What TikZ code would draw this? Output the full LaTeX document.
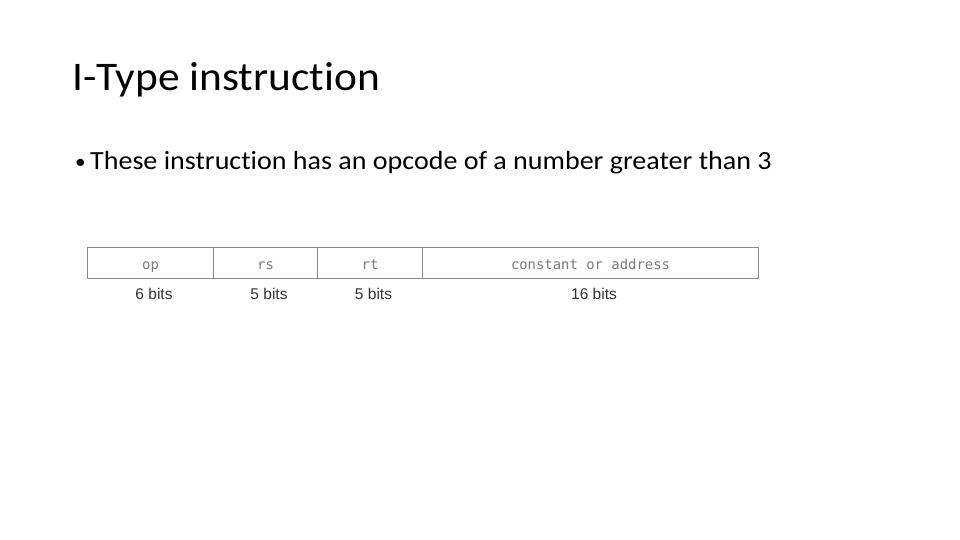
\documentclass[tikz,border=0pt]{standalone}
\usepackage{fontspec}
\setmainfont{Carlito}[Ligatures={NoCommon},FakeStretch=1.07]
\newfontfamily\labfont{Liberation Sans}
\newfontfamily\boxfont{DejaVu Sans Mono}
\definecolor{boxline}{HTML}{8A8A8A}
\definecolor{boxtext}{HTML}{7A7A7A}
\definecolor{labtext}{HTML}{333333}
\begin{document}
\begin{tikzpicture}[x=1pt,y=-1pt,
  field/.style={draw=boxline,line width=1pt,minimum height=31pt,inner sep=0pt,anchor=north west,
    text height=12.5pt,text depth=0.5pt,
    font=\boxfont\fontsize{13.9}{15}\selectfont,text=boxtext},
  bitlab/.style={font=\labfont\fontsize{15.5}{17}\selectfont,text=labtext,inner sep=0pt,xshift=3.5pt}]
\useasboundingbox[fill=white] (0,0) rectangle (960,540);
\node[anchor=base west,inner sep=0pt,font=\fontsize{40.6}{48}\selectfont] (title) at (72,91) {I-Type instruction};
\node[anchor=base,inner sep=0pt,font=\fontsize{20}{24}\selectfont] (dot) at (80.5,169) {\textbullet};
\node[anchor=base west,inner sep=0pt,font=\fontsize{26.2}{31}\selectfont] (bullet) at (90,170) {These instruction has an opcode of a number greater than 3};
\node[field,minimum width=126pt] (op) at (87,247) {op};
\node[field,minimum width=104pt] (rs) at (213,247) {rs};
\node[field,minimum width=105pt] (rt) at (317,247) {rt};
\node[field,minimum width=336pt] (ca) at (422,247) {constant or address};
\node[bitlab] (l1) at (op.south |- 0,293.5) {6 bits};
\node[bitlab] (l2) at (rs.south |- 0,293.5) {5 bits};
\node[bitlab] (l3) at (rt.south |- 0,293.5) {5 bits};
\node[bitlab] (l4) at (ca.south |- 0,293.5) {16 bits};
\end{tikzpicture}
\end{document}
